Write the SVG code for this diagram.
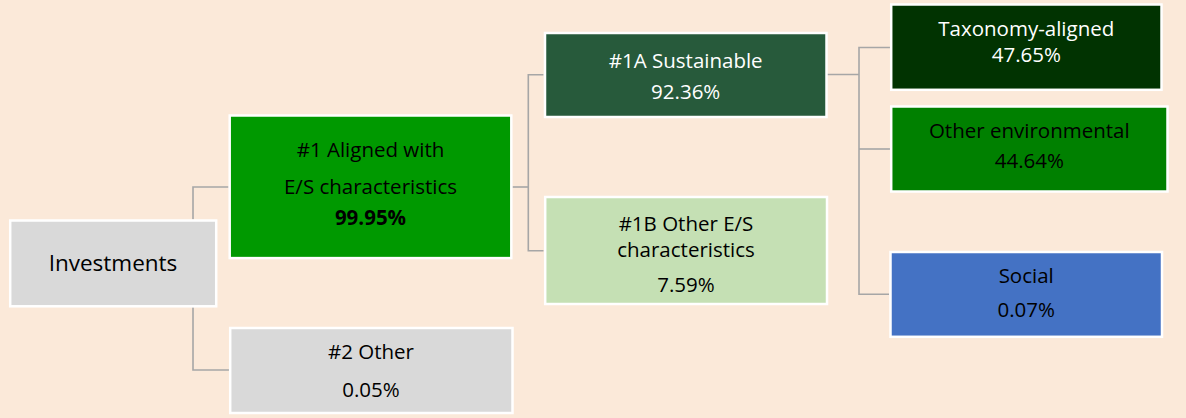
<svg xmlns="http://www.w3.org/2000/svg" width="1186" height="418" viewBox="0 0 1186 418">
<style>
.box{stroke:#FFFFFF;stroke-width:2.5}
.t{font-family:"Open Sans","Liberation Sans",sans-serif;font-size:20.5px;text-anchor:middle;fill:#000000}
.w{fill:#FFFFFF}
.b{font-weight:bold}
.big{font-size:22.5px}
.conn{fill:none;stroke:#A6A6A6;stroke-width:1.6}
</style>
<rect x="0" y="0" width="1186" height="418" fill="#FBE9D9"/>
<g id="connectors" class="conn">
<path d="M228.5 187 H193 V219.5"/>
<path d="M193 307.3 V370 H229"/>
<path d="M512.5 187 H528.3"/>
<path d="M543.5 74.7 H528.3 V250.7 H543.5"/>
<path d="M826.7 74.5 H859"/>
<path d="M890 47.5 H859 V294.3 H889"/>
<path d="M859 149 H890"/>
</g>
<g id="investments">
<rect class="box" x="10.2" y="220.5" width="206" height="85.8" fill="#D9D9D9"/>
<text class="t big" x="113" y="271">Investments</text>
</g>
<g id="aligned">
<rect class="box" x="229.7" y="115.5" width="281.6" height="142.6" fill="#009900"/>
<text class="t" x="370.5" y="157.3">#1 Aligned with</text>
<text class="t" x="370.5" y="194.3">E/S characteristics</text>
<text class="t b" x="370.5" y="225">99.95%</text>
</g>
<g id="other2">
<rect class="box" x="230.2" y="328" width="282.3" height="85" fill="#D9D9D9"/>
<text class="t" x="371" y="359.3">#2 Other</text>
<text class="t" x="371" y="396.7">0.05%</text>
</g>
<g id="sustainable">
<rect class="box" x="545" y="33" width="281.5" height="84" fill="#275A3B"/>
<text class="t w" x="685.7" y="67.7">#1A Sustainable</text>
<text class="t w" x="685.7" y="99">92.36%</text>
</g>
<g id="otheres">
<rect class="box" x="545.2" y="197" width="281.8" height="107" fill="#C5E0B4"/>
<text class="t" x="686" y="230.7">#1B Other E/S</text>
<text class="t" x="686" y="257.3">characteristics</text>
<text class="t" x="686" y="292.3">7.59%</text>
</g>
<g id="taxonomy">
<rect class="box" x="891.2" y="4.5" width="270.3" height="85.3" fill="#013301"/>
<text class="t w" x="1026.3" y="36">Taxonomy-aligned</text>
<text class="t w" x="1026.3" y="62.3">47.65%</text>
</g>
<g id="otherenv">
<rect class="box" x="891.2" y="106.5" width="276.3" height="85" fill="#008000"/>
<text class="t" x="1029.3" y="137.7">Other environmental</text>
<text class="t" x="1029.3" y="167.7">44.64%</text>
</g>
<g id="social">
<rect class="box" x="890.5" y="252" width="271.5" height="84.8" fill="#4472C4"/>
<text class="t" x="1026.2" y="283.3">Social</text>
<text class="t" x="1026.2" y="316.7">0.07%</text>
</g>
</svg>
